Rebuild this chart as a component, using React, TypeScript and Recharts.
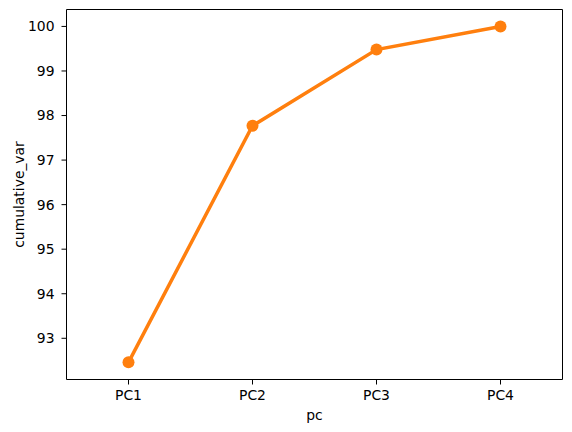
import { Label, Line, LineChart, ReferenceLine, XAxis, YAxis } from "recharts";

const pcs = ["PC1", "PC2", "PC3", "PC4"];
const cumulativeVar = [92.46, 97.77, 99.48, 100.0];
const yTicks = [93, 94, 95, 96, 97, 98, 99, 100];

const data = pcs.map((pc, i) => ({ idx: i, pc, cumulative_var: cumulativeVar[i] }));

const xDomain: [number, number] = [-0.5, 3.5];
const yDomain: [number, number] = [92.075, 100.38];

const font = "DejaVu Sans, sans-serif";
const fs = 13.9;
const tickStyle = { fill: "#000", fontSize: fs, fontFamily: font };

export default function App() {
  return (
    <div style={{ position: "absolute", left: 0, top: 0, background: "#fff" }}>
      <LineChart
        width={572}
        height={432}
        data={data}
        margin={{ top: 9.5, right: 9.5, left: 0.5, bottom: 22.5 }}
      >
        <XAxis
          dataKey="idx"
          type="number"
          domain={xDomain}
          ticks={[0, 1, 2, 3]}
          tickFormatter={(v) => pcs[v] ?? ""}
          height={30}
          stroke="#000"
          tick={tickStyle}
          tickSize={5}
          tickMargin={6}
          allowDataOverflow
        >
          <Label value="pc" position="bottom" offset={0.5} style={{ fill: "#000", fontSize: fs, fontFamily: font }} />
        </XAxis>
        <YAxis
          type="number"
          domain={yDomain}
          ticks={yTicks}
          width={66}
          stroke="#000"
          tick={tickStyle}
          tickSize={5}
          tickMargin={7}
          allowDataOverflow
        >
          <Label
            value="cumulative_var"
            angle={-90}
            position="insideLeft"
            offset={18.5}
            style={{ fill: "#000", fontSize: fs, fontFamily: font, textAnchor: "middle" }}
          />
        </YAxis>
        <ReferenceLine y={yDomain[1]} stroke="#000" strokeWidth={1} />
        <ReferenceLine x={xDomain[1]} stroke="#000" strokeWidth={1} />
        <Line
          dataKey="cumulative_var"
          type="linear"
          stroke="#ff7f0e"
          strokeWidth={3.5}
          dot={{ r: 6, fill: "#ff7f0e", stroke: "none" }}
          activeDot={false}
          isAnimationActive={false}
        />
      </LineChart>
    </div>
  );
}
